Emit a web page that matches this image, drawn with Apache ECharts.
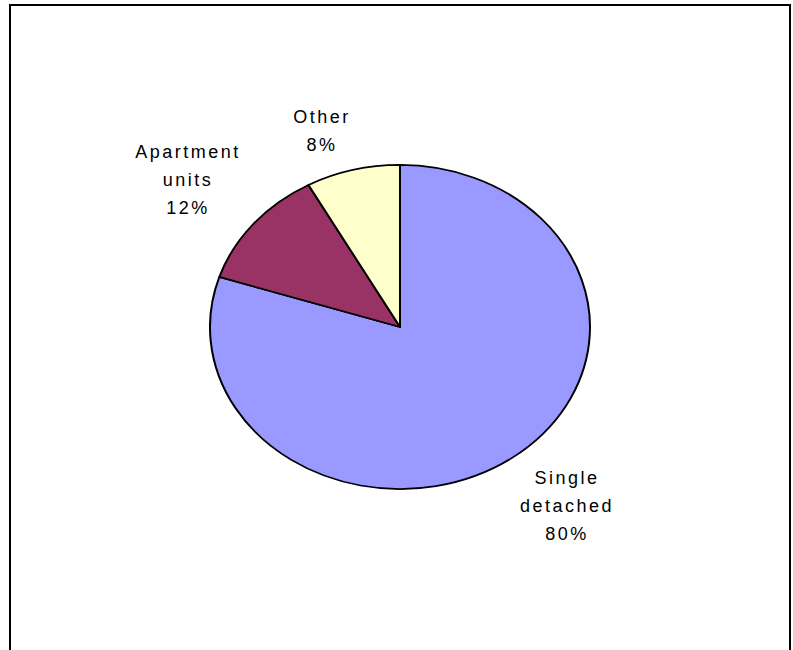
<!DOCTYPE html>
<html>
<head>
<meta charset="utf-8">
<script src="https://cdn.jsdelivr.net/npm/echarts@6/dist/echarts.min.js"></script>
<style>
  html, body { margin: 0; padding: 0; background: #fff; }
  #wrap { position: relative; width: 793px; height: 650px; overflow: hidden; }
  #pie { position: absolute; left: 0; top: 0; width: 793px; height: 650px;
         transform: scaleY(0.853); transform-origin: 0 327px; }
  #labels { position: absolute; left: 0; top: 0; width: 793px; height: 650px; }
  #labels text { letter-spacing: 2.5px; }
</style>
</head>
<body>
<div id="wrap">
  <div id="pie"></div>
  <div id="labels"></div>
</div>
<script>
const categories = ['Single detached', 'Apartment units', 'Other'];
const labelLines = [['Single', 'detached'], ['Apartment', 'units'], ['Other']];
const values = [80, 12, 8];
const colors = ['#9999FF', '#993366', '#FFFFCC'];
const labelCenters = [[567, 478], [188, 152], [322, 117]];

const pieChart = echarts.init(document.getElementById('pie'), null, { renderer: 'svg' });
pieChart.setOption({
  backgroundColor: 'transparent',
  animation: false,
  series: [{
    type: 'pie',
    center: [400, 327],
    radius: [0, 190],
    startAngle: 90,
    clockwise: true,
    label: { show: false },
    labelLine: { show: false },
    emphasis: { disabled: true },
    itemStyle: { borderColor: '#000', borderWidth: 2 },
    data: categories.map((c, i) => ({ name: c, value: values[i], itemStyle: { color: colors[i] } }))
  }]
});

const lineH = 28;
const texts = [];
categories.forEach((c, i) => {
  const lines = labelLines[i].concat([values[i] + '%']);
  lines.forEach((t, j) => {
    texts.push({
      type: 'text',
      x: labelCenters[i][0],
      y: labelCenters[i][1] + j * lineH,
      style: {
        text: t,
        fill: '#000',
        font: '18px "Liberation Sans", Arial, sans-serif',
        textAlign: 'center',
        textVerticalAlign: 'middle'
      }
    });
  });
});

const labelChart = echarts.init(document.getElementById('labels'), null, { renderer: 'svg' });
labelChart.setOption({
  animation: false,
  graphic: [{
    type: 'rect',
    shape: { x: 10, y: 5, width: 780, height: 700 },
    style: { fill: 'none', stroke: '#000', lineWidth: 2 }
  }].concat(texts)
});
</script>
</body>
</html>
